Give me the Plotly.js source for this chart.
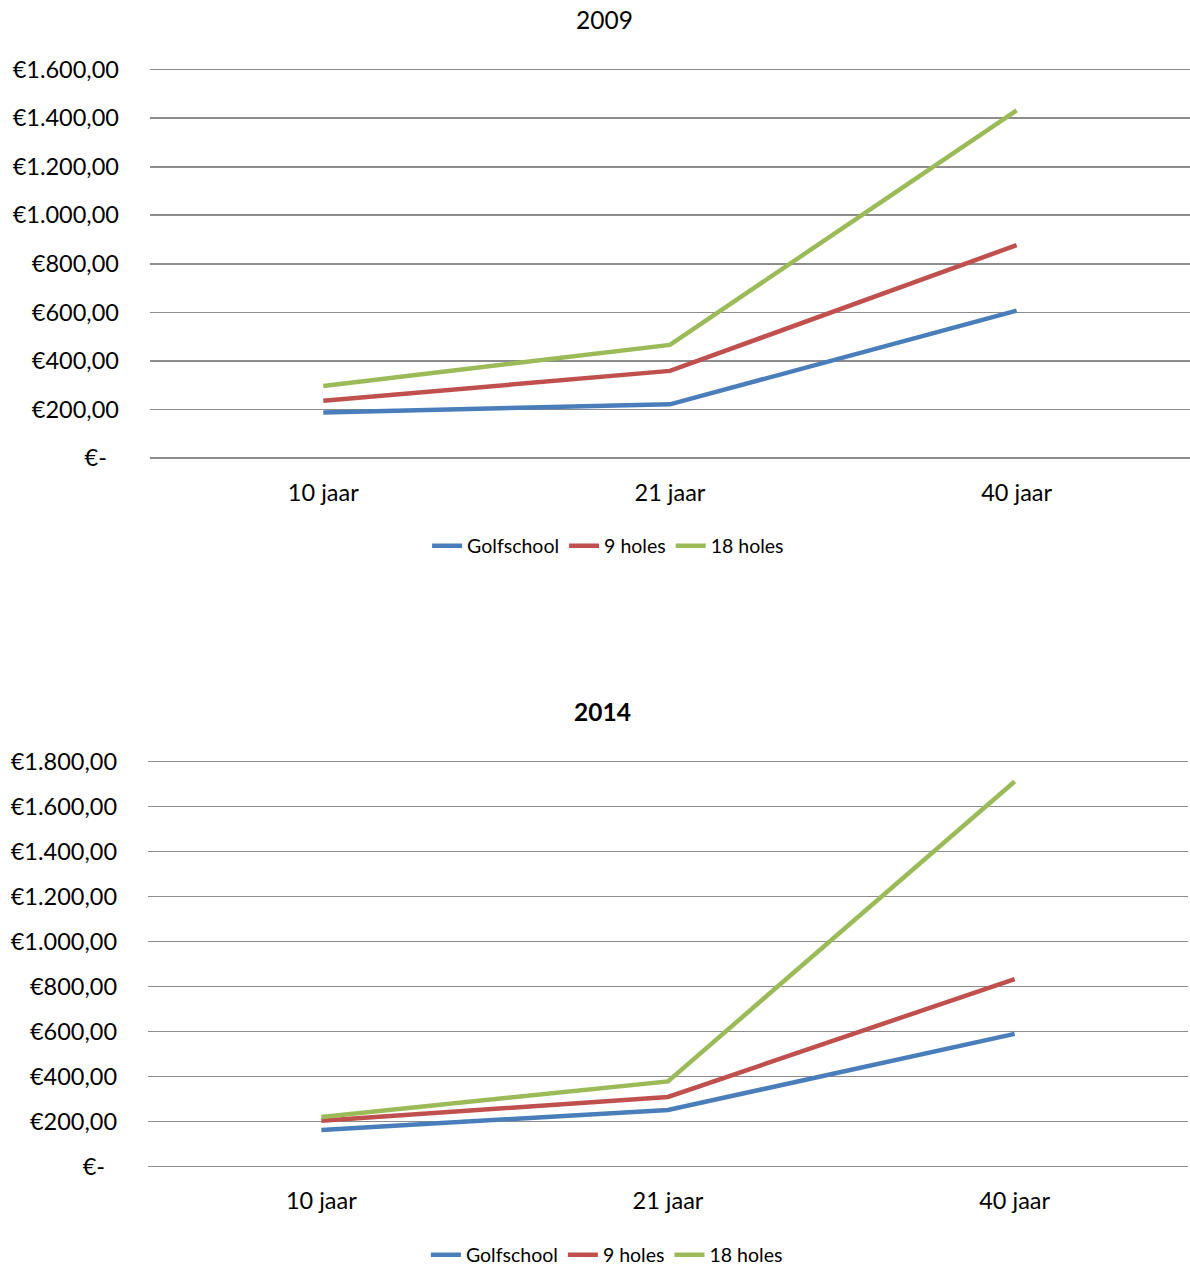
<!DOCTYPE html>
<html>
<head>
<meta charset="utf-8">
<script src="https://cdn.plot.ly/plotly-3.0.1.min.js"></script>
<style>html,body{margin:0;padding:0;background:#fff;}</style>
</head>
<body>
<div id="chart" style="width:1190px;height:1267px;"></div>
<script>
// Data
const categories = ["10 jaar", "21 jaar", "40 jaar"];
const seriesNames = ["Golfschool", "9 holes", "18 holes"];

const golfschool2009 = [188, 221, 607];
const holes9_2009 = [236, 359, 877];
const holes18_2009 = [297, 466, 1432];

const golfschool2014 = [163, 252, 590];
const holes9_2014 = [204, 310, 834];
const holes18_2014 = [221, 379, 1712];

const tickVals2009 = [0, 200, 400, 600, 800, 1000, 1200, 1400, 1600];
const tickText2009 = ["€-\u00a0\u00a0", "€200,00", "€400,00", "€600,00", "€800,00", "€1.000,00", "€1.200,00", "€1.400,00", "€1.600,00"];
const tickVals2014 = [0, 200, 400, 600, 800, 1000, 1200, 1400, 1600, 1800];
const tickText2014 = ["€-\u00a0\u00a0", "€200,00", "€400,00", "€600,00", "€800,00", "€1.000,00", "€1.200,00", "€1.400,00", "€1.600,00", "€1.800,00"];

const titles = ["2009", "<b>2014</b>"];

const colors = ["#4A7EBB", "#C0504D", "#9BBB59"];
const FONT = "Lato, 'Open Sans', sans-serif";

function mk(y, i, xa, ya, leg) {
  return {
    type: "scatter", mode: "lines", x: categories, y: y, name: seriesNames[i],
    xaxis: xa, yaxis: ya, legend: leg,
    line: {color: colors[i], width: 4.5},
    hoverinfo: "skip"
  };
}

const data = [
  mk(golfschool2009, 0, "x", "y", "legend"),
  mk(holes9_2009, 1, "x", "y", "legend"),
  mk(holes18_2009, 2, "x", "y", "legend"),
  mk(golfschool2014, 0, "x2", "y2", "legend2"),
  mk(holes9_2014, 1, "x2", "y2", "legend2"),
  mk(holes18_2014, 2, "x2", "y2", "legend2")
];

const gridColor = "#8C8C8C";
const tickFont = {family: FONT, size: 23.5, color: "#000"};

function xax(domain, anchor) {
  return {
    domain: domain, anchor: anchor, type: "category", range: [-0.5, 2.5],
    showgrid: false, zeroline: false, showline: false, ticks: "",
    tickfont: tickFont, ticklabelstandoff: 18, fixedrange: true
  };
}
function yax(domain, anchor, range, vals, text) {
  return {
    domain: domain, anchor: anchor, range: range,
    tickmode: "array", tickvals: vals, ticktext: text,
    showgrid: true, gridcolor: gridColor, gridwidth: 1.6,
    zeroline: true, zerolinecolor: gridColor, zerolinewidth: 1.6,
    showline: false, ticks: "", tickfont: tickFont, ticklabelstandoff: 30,
    fixedrange: true
  };
}

const layout = {
  width: 1190, height: 1267, autosize: false,
  margin: {l: 0, r: 0, t: 0, b: 0, pad: 0, autoexpand: false},
  paper_bgcolor: "#fff", plot_bgcolor: "#fff",
  font: {family: FONT, color: "#000"},
  showlegend: true,
  xaxis: xax([0.126, 1.0], "y"),
  yaxis: yax([0.6385, 0.9466], "x", [0, 1608], tickVals2009, tickText2009),
  xaxis2: xax([0.1244, 0.9983], "y2"),
  yaxis2: yax([0.0792, 0.4006], "x2", [0, 1810], tickVals2014, tickText2014),
  legend: {
    orientation: "h", x: 0.511, xanchor: "center", y: 1 - 546/1267, yanchor: "middle",
    font: {family: FONT, size: 19.5, color: "#000"}, bgcolor: "rgba(0,0,0,0)",
    traceorder: "normal", itemclick: false, itemdoubleclick: false
  },
  legend2: {
    orientation: "h", x: 0.51, xanchor: "center", y: 1 - 1255/1267, yanchor: "middle",
    font: {family: FONT, size: 19.5, color: "#000"}, bgcolor: "rgba(0,0,0,0)",
    traceorder: "normal", itemclick: false, itemdoubleclick: false
  },
  annotations: [
    {text: titles[0], xref: "paper", yref: "paper", x: 0.5076, y: 1 - 19/1267,
     xanchor: "center", yanchor: "middle", showarrow: false,
     font: {family: FONT, size: 24.5, color: "#000"}},
    {text: titles[1], xref: "paper", yref: "paper", x: 0.5067, y: 1 - 711/1267,
     xanchor: "center", yanchor: "middle", showarrow: false,
     font: {family: FONT, size: 24.5, color: "#000"}}
  ]
};

Plotly.newPlot("chart", data, layout, {displayModeBar: false, staticPlot: true});
</script>
</body>
</html>
